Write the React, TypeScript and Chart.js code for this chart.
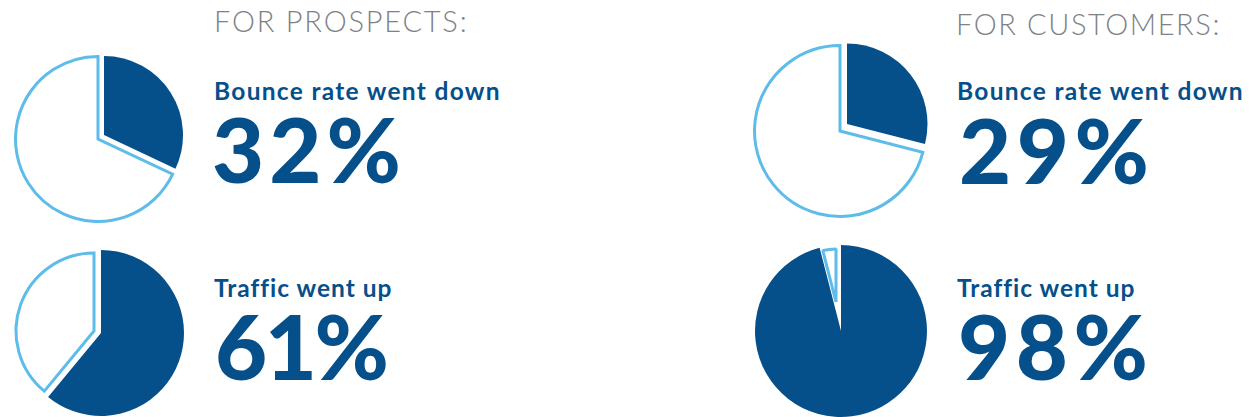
import React, { useEffect, useRef } from "react";
import { Chart, registerables } from "chart.js";

Chart.register(...registerables);

// ---------- data ----------
const sectionTitles = ["FOR PROSPECTS:", "FOR CUSTOMERS:"];
const metricLabels = ["Bounce rate went down", "Traffic went up", "Bounce rate went down", "Traffic went up"];
const percentValues = [32, 61, 29, 98];
const sliceLabels = ["Changed", "Remaining"];
const prospectsBounce = [32, 68];
const prospectsTraffic = [61, 39];
const customersBounce = [29, 71];
const customersTraffic = [96, 4];

// ---------- styles ----------
const DARK = "#05508a";
const LIGHT = "#5dbce9";
const GREY = "#7d8287";
const FONT = "Lato, 'Open Sans', sans-serif";

type LayerProps = {
  data: number[];
  visible: number;
  fill: string;
  border: string;
  borderWidth: number;
  join: "miter" | "bevel" | "round";
  cx: number;
  cy: number;
  radius: number;
};

function PieLayer({ data, visible, fill, border, borderWidth, join, cx, cy, radius }: LayerProps) {
  const ref = useRef<HTMLCanvasElement>(null);
  const size = Math.ceil(radius + borderWidth + 6) * 2;
  useEffect(() => {
    if (!ref.current) return;
    const none = "rgba(0,0,0,0)";
    const chart = new Chart(ref.current, {
      type: "pie",
      data: {
        labels: sliceLabels,
        datasets: [
          {
            data,
            backgroundColor: data.map((_, i) => (i === visible ? fill : none)),
            borderColor: data.map((_, i) => (i === visible ? border : none)),
            borderWidth: data.map((_, i) => (i === visible ? borderWidth : 0)),
            borderJoinStyle: join,
            borderAlign: "center",
          },
        ],
      },
      options: {
        responsive: false,
        animation: false,
        radius,
        events: [],
        layout: { padding: 0 },
        plugins: { legend: { display: false }, tooltip: { enabled: false }, title: { display: false } },
      } as any,
    });
    return () => chart.destroy();
  }, []);
  return (
    <canvas
      ref={ref}
      width={size}
      height={size}
      style={{ position: "absolute", left: cx - size / 2, top: cy - size / 2, width: size, height: size }}
    />
  );
}

function Text({ x, y, size, weight, color, spacing = 0, children }: any) {
  return (
    <div
      style={{
        position: "absolute",
        left: x,
        top: y,
        fontFamily: FONT,
        fontSize: size,
        fontWeight: weight,
        color,
        lineHeight: 1,
        letterSpacing: spacing,
        whiteSpace: "nowrap",
      }}
    >
      {children}
    </div>
  );
}

export default function App() {
  return (
    <div style={{ position: "absolute", left: 0, top: 0, width: 1249, height: 417, overflow: "hidden", background: "#fff" }}>
      {/* Prospects - bounce: light major, dark minor pulled out */}
      <PieLayer data={prospectsBounce} visible={1} fill="#ffffff" border={LIGHT} borderWidth={3} join="miter" cx={97.5} cy={139} radius={82.5} />
      <PieLayer data={prospectsBounce} visible={0} fill={DARK} border={DARK} borderWidth={0} join="miter" cx={104} cy={135} radius={79} />

      {/* Prospects - traffic: dark major, light minor pulled out */}
      <PieLayer data={prospectsTraffic} visible={0} fill={DARK} border={DARK} borderWidth={0} join="miter" cx={100.5} cy={332.5} radius={83} />
      <PieLayer data={prospectsTraffic} visible={1} fill="#ffffff" border={LIGHT} borderWidth={3} join="miter" cx={93.5} cy={330.5} radius={78} />

      {/* Customers - bounce */}
      <PieLayer data={customersBounce} visible={1} fill="#ffffff" border={LIGHT} borderWidth={3} join="miter" cx={839.5} cy={131} radius={85.5} />
      <PieLayer data={customersBounce} visible={0} fill={DARK} border={DARK} borderWidth={0} join="miter" cx={847} cy={124.3} radius={80.5} />

      {/* Customers - traffic */}
      <PieLayer data={customersTraffic} visible={0} fill={DARK} border={DARK} borderWidth={0} join="miter" cx={840.5} cy={331} radius={86} />
      <PieLayer data={customersTraffic} visible={1} fill="#ffffff" border={LIGHT} borderWidth={3} join="bevel" cx={836} cy={302} radius={53} />

      <Text x={214} y={6} size={29} weight={300} color={GREY} spacing={1.8}>{sectionTitles[0]}</Text>
      <Text x={956} y={8.5} size={29} weight={300} color={GREY} spacing={1.6}>{sectionTitles[1]}</Text>

      <Text x={214} y={78.5} size={24.5} weight={700} color={DARK} spacing={1.3}>{metricLabels[0]}</Text>
      <Text x={212} y={103} size={90} weight={900} color={DARK} spacing={5}>{percentValues[0]}%</Text>

      <Text x={214} y={275.5} size={24.5} weight={700} color={DARK} spacing={1}>{metricLabels[1]}</Text>
      <Text x={215} y={300} size={90} weight={900} color={DARK} spacing={-2.5}>{percentValues[1]}%</Text>

      <Text x={957} y={78.5} size={24.5} weight={700} color={DARK} spacing={1.3}>{metricLabels[2]}</Text>
      <Text x={959} y={104} size={90} weight={900} color={DARK} spacing={5.5}>{percentValues[2]}%</Text>

      <Text x={957} y={275.5} size={24.5} weight={700} color={DARK} spacing={1}>{metricLabels[3]}</Text>
      <Text x={958} y={300} size={90} weight={900} color={DARK} spacing={5.5}>{percentValues[3]}%</Text>
    </div>
  );
}
